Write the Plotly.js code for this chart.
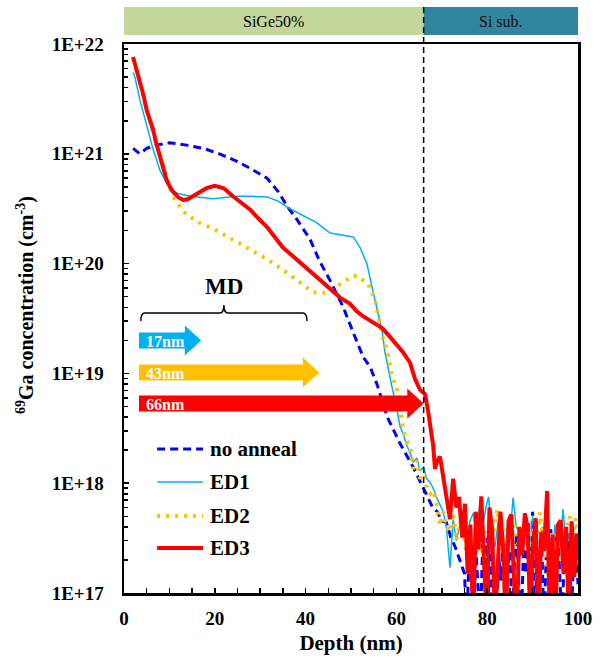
<!DOCTYPE html>
<html>
<head>
<meta charset="utf-8">
<script src="https://cdn.plot.ly/plotly-3.0.1.min.js"></script>
<style>html,body{margin:0;padding:0;background:#fff;}#chart{width:603px;height:660px;}</style>
</head>
<body>
<div id="chart"></div>
<script>
// ---------- data ----------
const seriesNames = ['no anneal', 'ED1', 'ED2', 'ED3'];

const depthNoAnneal = [2,3.5,5,7.2,10,13.8,17.5,21,25,28,31.5,34,36,38,41,43,45.4,48.3,50.5,52.7,54.2,55.7,58,60.8,63.7,66,67,68,69,70,71,72,73,74,75,
  75.5,76,76.5,77,77.5,78,78.5,79,79.5,80,80.5,81,81.5,82,82.5,83,83.5,84,84.5,85,85.5,86,86.5,87,87.5,88,88.5,89,89.5,90,
  90.5,91,91.5,92,92.5,93,93.5,94,94.5,95,95.5,96,96.5,97,97.5,98,98.5,99,99.5,100];
const concNoAnneal = [1.12e21,1.0e21,1.12e21,1.2e21,1.26e21,1.2e21,1.12e21,1.0e21,8.5e20,7.3e20,6.0e20,4.5e20,3.3e20,2.55e20,1.66e20,1.07e20,7e19,4e19,2.35e19,1.4e19,1.15e19,8e18,4e18,2.3e18,1.4e18,9e17,7.5e17,6e17,5.5e17,4.5e17,4.4e17,3.2e17,2.6e17,2.0e17,1.5e17,
  5e16,2.2e17,1.8e17,5e16,2.5e17,1.2e17,5e16,2.8e17,1.4e17,3.2e17,5e16,2.6e17,1.5e17,5e16,2.2e17,1.3e17,3e17,5e16,1.6e17,2.4e17,
  5e16,1.8e17,3.4e17,1.1e17,5e16,2.6e17,1.5e17,4.5e17,1.2e17,5.5e17,5e16,2.3e17,1.6e17,3e17,5e16,2.2e17,1.7e17,3.8e17,5e16,2.6e17,
  4e17,1.4e17,5e16,2.8e17,1.8e17,3.5e17,5e16,2e17,3e17,1.2e17];

const depthED1 = [2,2.4,3.5,5,6.4,7.9,9.4,11.6,14.5,19.6,24.9,28,31.5,34,36,39,42.5,45.4,48.3,50.5,52,53.5,54.6,55.7,56.8,57.5,58.1,59,60,60.8,
  61.5,62.3,63,63.7,64.5,65.2,66,66.7,67.5,68.1,68.8,69.6,70.3,71,71.8,72.5,73.2,74,74.7,75.5,76.2,77,77.7,78.4,79,79.7,80.3,81,81.7,82.4,
  83,83.7,84.4,85,85.7,86.4,87.2,87.9,88.6,89.3,90,90.7,91.4,92.1,92.8,93.5,94.2,94.9,95.6,96.3,96.7,97.4,98,98.7,99.3,100];
const concED1 = [5.5e21,5.0e21,3.1e21,1.8e21,1.1e21,7.1e20,5.4e20,4.4e20,4.1e20,3.9e20,4.1e20,4.1e20,4.05e20,3.7e20,3.25e20,2.8e20,2.35e20,1.9e20,1.8e20,1.75e20,1.4e20,1.0e20,6.2e19,4e19,2.5e19,1.55e19,1.15e19,7.6e18,5e18,3.3e18,
  2.8e18,2.2e18,1.9e18,1.55e18,1.7e18,1.3e18,1.4e18,1.1e18,1.0e18,9e17,7.5e17,6.3e17,5.5e17,4e17,1.7e17,4.7e17,3e17,4.2e17,3.8e17,2.5e17,4.5e17,5.4e17,3e17,7e17,4e17,6e17,7.5e17,3.5e17,2.6e17,4.5e17,
  3e17,2e17,4e17,3.2e17,7.4e17,4e17,3.5e17,2.4e17,3.8e17,2.5e17,5e17,3e17,1.8e17,4e17,2.8e17,3.5e17,1.6e17,4.2e17,2.5e17,3.8e17,5.8e17,2.7e17,3.5e17,1.5e17,2.5e17,1.8e17];

const depthED2 = [2,3.5,5,6.4,7.9,9.4,10.3,11.2,12.3,13.4,15,16.7,20,24,28,31.5,35,38.8,41.6,44,46,48.3,50.2,51.3,52.7,53.8,54.6,55.3,56,56.4,
  57.1,57.9,58.4,59,60,61.5,62.3,63,63.7,64.5,65.2,66,66.7,67.5,68.2,68.9,69.6,70.3,71,71.8,72.5,73.2,74,74.7,75.5,76.2,77,77.7,78.4,79,
  79.7,80.6,81.3,82.2,83,83.7,84.4,85,85.7,86.4,87.2,87.9,88.6,89.3,90,90.7,91.6,92.3,93,93.7,94.4,95.1,95.8,96.5,97.5,98.2,98.9,99.5,100];
const concED2 = [7.3e21,4.5e21,2.5e21,1.6e21,9.3e20,5.9e20,4.6e20,3.8e20,3.3e20,2.9e20,2.6e20,2.35e20,2.05e20,1.65e20,1.35e20,1.1e20,8.8e19,6.8e19,5.5e19,5.4e19,5.8e19,6.8e19,7.6e19,7.8e19,7.1e19,6.5e19,5.5e19,4.7e19,3.3e19,2.7e19,
  2.0e19,1.7e19,1.25e19,9.3e18,7.6e18,3.1e18,2.4e18,2.2e18,1.35e18,1.6e18,1.1e18,1.2e18,9e17,8e17,8.5e17,6.3e17,4.1e17,5.5e17,4e17,3.6e17,5.4e17,3e17,4.5e17,4e17,2.2e17,3.4e17,2.8e17,3.8e17,2.3e17,3e17,
  4e17,3.8e17,2.9e17,5.8e17,3.5e17,2.5e17,4.2e17,3e17,4.9e17,3.3e17,2.5e17,4.5e17,3.5e17,2e17,3.8e17,2.7e17,5.4e17,3.2e17,2.2e17,1.2e17,3.5e17,2.6e17,4e17,2.8e17,4e17,5e17,3e17,4.8e17,3.5e17];

const depthED3 = [2,2.7,3.5,4.3,5,5.7,6.4,7.1,7.9,8.6,9.4,10.1,10.8,12,13,14,15.2,16.8,18.3,20,22,24,26,27.8,29.5,31.5,33.2,35,36.9,38.8,
  40.6,42.5,44,45.4,47.6,49.8,51.2,52.7,54.8,56.8,58.6,60.1,61.5,63,64.1,65.2,66.3,67,67.4,68.1,68.5,69,69.6,70.3,71,71.8,72.5,73.2,73.8,74.5,
  75.1,75.7,76.3,76.9,77.5,78.1,78.7,79.3,79.9,80.5,81.1,81.7,82.3,82.9,83.5,84.1,84.7,85.3,85.9,86.5,87.1,87.7,88.3,88.9,89.5,90.1,90.7,91.3,91.9,92.5,
  93.2,93.8,94.4,95,95.6,96.2,96.8,97.4,98,98.6,99.2,99.7,100];
const concED3 = [7.6e21,6.0e21,4.5e21,3.4e21,2.5e21,2.05e21,1.66e21,1.25e21,9.3e20,7.2e20,5.75e20,5.0e20,4.5e20,4.0e20,3.8e20,3.85e20,4.1e20,4.5e20,4.9e20,5.1e20,4.85e20,4.1e20,3.55e20,3.1e20,2.6e20,2.15e20,1.75e20,1.4e20,1.2e20,1.02e20,
  8.8e19,7.6e19,6.6e19,5.8e19,4.9e19,4.3e19,3.7e19,3.3e19,2.9e19,2.6e19,2.15e19,1.8e19,1.55e19,1.25e19,8.9e18,7.1e18,6.5e18,4.5e18,3.3e18,2.2e18,1.35e18,1.6e18,1.75e18,1.1e18,7e17,4.7e17,1.1e18,6e17,7.5e17,3.2e17,
  6.5e17,1.5e17,4.2e17,5e16,5.5e17,2.5e17,7.6e17,1.8e17,5e16,6e17,3.8e17,5e16,1.5e17,5.5e17,2.6e17,5e16,4.5e17,5.2e17,1.3e17,5e16,4e17,2.2e17,5.3e17,4e17,5e16,2.8e17,4.8e17,5e16,3.6e17,2.4e17,
  8.5e17,5e16,3.4e17,5e16,4.2e17,4.6e17,1.5e17,4e17,5e16,4.5e17,1.4e17,3.5e17,2e17];

// misfit-dislocation depths (arrows)
const mdDepths = [17, 43, 66];
const mdLabels = ['17nm', '43nm', '66nm'];
const interfaceDepth = 66;
const layerLabels = ['SiGe50%', 'Si sub.'];

const yTickVals = [1e17, 1e18, 1e19, 1e20, 1e21, 1e22];
const yTickText = ['1E+17', '1E+18', '1E+19', '1E+20', '1E+21', '1E+22'];

// ---------- styles ----------
const FONT = 'Liberation Serif, Times New Roman, serif';
const colors = ['#0000ff', '#00b0f0', '#ffc000', '#ff0000'];
const lineStyles = [
  {color: colors[0], width: 3, dash: '8px,5px'},
  {color: colors[1], width: 1.5},
  {color: colors[2], width: 4, dash: '3px,6px'},
  {color: colors[3], width: 4}
];
const depths = [depthNoAnneal, depthED1, depthED2, depthED3];
const concs = [concNoAnneal, concED1, concED2, concED3];

const traces = seriesNames.map((n, i) => ({
  x: depths[i], y: concs[i], name: n, type: 'scatter', mode: 'lines',
  line: lineStyles[i], showlegend: false, hoverinfo: 'skip'
}));

// pixel (within 660px page) -> paper coords
const PT = 44, PB = 593;
function py(p) { return (PB - p) / (PB - PT); }
const PL = 124, PR = 578;
function px(p) { return (p - PL) / (PR - PL); }

const minorVals = [];
for (let e = 17; e < 22; e++) for (let m = 2; m <= 9; m++) minorVals.push(m * Math.pow(10, e));

const shapes = [];
const annotations = [];

// layer bar
shapes.push({type: 'rect', xref: 'x', yref: 'paper', x0: 0, x1: interfaceDepth, y0: py(35), y1: py(7),
  fillcolor: '#c3d69b', line: {width: 0}, layer: 'below'});
shapes.push({type: 'rect', xref: 'x', yref: 'paper', x0: interfaceDepth, x1: 100, y0: py(35), y1: py(7),
  fillcolor: '#31859c', line: {width: 0}, layer: 'below'});
annotations.push({xref: 'x', yref: 'paper', x: interfaceDepth / 2, y: py(21), text: layerLabels[0], showarrow: false,
  font: {family: FONT, size: 16, color: '#000'}, xanchor: 'center', yanchor: 'middle'});
annotations.push({xref: 'x', yref: 'paper', x: (interfaceDepth + 100) / 2, y: py(21), text: layerLabels[1], showarrow: false,
  font: {family: FONT, size: 16, color: '#111'}, xanchor: 'center', yanchor: 'middle'});
// interface dashed line
shapes.push({type: 'line', xref: 'x', yref: 'paper', x0: interfaceDepth, x1: interfaceDepth, y0: 0, y1: py(7),
  line: {color: '#000', width: 1.5, dash: '6px,4px'}});

// MD bracket
const bL = 3.7, bR = 40.3, bC = 22.0, bTop = 313, bEnd = 321, bTip = 305;
shapes.push({type: 'path', xref: 'x', yref: 'paper', line: {color: '#000', width: 1.5},
  path: `M${bL},${py(bEnd)} Q${bL},${py(bTop)} ${bL + 0.9},${py(bTop)} L${bC - 0.9},${py(bTop)} Q${bC},${py(bTop)} ${bC},${py(bTip)} ` +
        `Q${bC},${py(bTop)} ${bC + 0.9},${py(bTop)} L${bR - 0.9},${py(bTop)} Q${bR},${py(bTop)} ${bR},${py(bEnd)}`});
annotations.push({xref: 'x', yref: 'paper', x: bC, y: py(286), text: 'MD', showarrow: false,
  font: {family: FONT, size: 23, color: '#000', weight: 'bold'}, xanchor: 'center', yanchor: 'middle'});

// arrows
const arrowY = [340.5, 372.5, 403.5];
const arrowColors = [colors[1], colors[2], colors[3]];
const arrowStart = 3.3, headLen = 3.6, bodyHalf = 8, headHalf = 15;
mdDepths.forEach((d, i) => {
  const yc = arrowY[i], hx = d - headLen;
  shapes.push({type: 'path', xref: 'x', yref: 'paper', fillcolor: arrowColors[i], line: {width: 0},
    path: `M${arrowStart},${py(yc - bodyHalf)} L${hx},${py(yc - bodyHalf)} L${hx},${py(yc - headHalf)} L${d},${py(yc)} ` +
          `L${hx},${py(yc + headHalf)} L${hx},${py(yc + bodyHalf)} L${arrowStart},${py(yc + bodyHalf)} Z`});
  annotations.push({xref: 'x', yref: 'paper', x: 4.4, y: py(yc + 1), text: mdLabels[i], showarrow: false,
    font: {family: FONT, size: 16, color: '#fff', weight: 'bold'}, xanchor: 'left', yanchor: 'middle'});
});

// legend (manual)
const legY = [449, 482, 516, 548];
seriesNames.forEach((n, i) => {
  shapes.push({type: 'line', xref: 'x', yref: 'paper', x0: 7.3, x1: 17.4, y0: py(legY[i]), y1: py(legY[i]),
    line: lineStyles[i]});
  annotations.push({xref: 'x', yref: 'paper', x: 18.4, y: py(legY[i]), text: n, showarrow: false,
    font: {family: FONT, size: 21, color: '#000', weight: 'bold'}, xanchor: 'left', yanchor: 'middle'});
});

// y title
annotations.push({xref: 'paper', yref: 'paper', x: px(25), y: py(305), textangle: -90,
  text: '<sup>69</sup>Ga concentration (cm<sup>-3</sup>)', showarrow: false,
  font: {family: FONT, size: 20, color: '#000', weight: 'bold'}, xanchor: 'center', yanchor: 'middle'});

const layout = {
  width: 603, height: 660,
  margin: {l: PL, r: 603 - PR, t: PT, b: 660 - PB, pad: 0},
  paper_bgcolor: '#fff', plot_bgcolor: '#fff',
  showlegend: false,
  xaxis: {
    range: [0, 100], dtick: 20, tick0: 0, ticks: 'inside', ticklen: 5, tickwidth: 1.5, tickcolor: '#000',
    minor: {dtick: 5, ticks: 'inside', ticklen: 5, tickwidth: 1.5, tickcolor: '#000'},
    showline: true, linecolor: '#000', linewidth: 2.5, mirror: true, showgrid: false, zeroline: false,
    tickfont: {family: FONT, size: 19, color: '#000', weight: 'bold'}, ticklabelstandoff: 7,
    title: {text: 'Depth (nm)', font: {family: FONT, size: 21, color: '#000', weight: 'bold'}, standoff: 7},
    automargin: false
  },
  yaxis: {
    type: 'log', range: [17, 22], tickmode: 'array', tickvals: yTickVals, ticktext: yTickText,
    ticks: 'inside', ticklen: 5, tickwidth: 1.5, tickcolor: '#000',
    minor: {tickmode: 'array', tickvals: minorVals, ticks: 'inside', ticklen: 4, tickwidth: 1.5, tickcolor: '#000'},
    showline: true, linecolor: '#000', linewidth: 2.5, mirror: true, showgrid: false, zeroline: false,
    tickfont: {family: FONT, size: 19, color: '#000', weight: 'bold'}, ticklabelstandoff: 14,
    automargin: false
  },
  shapes: shapes,
  annotations: annotations
};

Plotly.newPlot('chart', traces, layout, {displayModeBar: false, staticPlot: true});
</script>
</body>
</html>
